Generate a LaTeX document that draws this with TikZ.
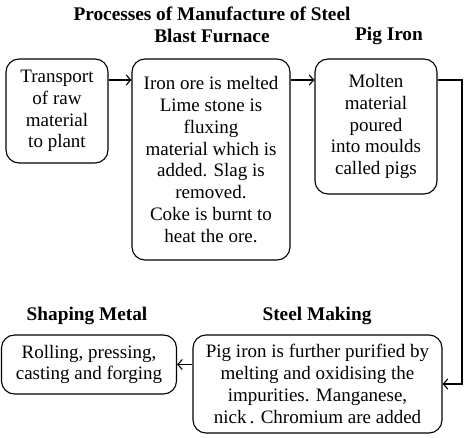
\documentclass[tikz,border=0pt]{standalone}
\usepackage{fontspec}
\setmainfont{Liberation Serif}
\usetikzlibrary{arrows.meta}
\begin{document}
\begin{tikzpicture}[x=1pt,y=-1pt,
  box/.style={draw, line width=1.1pt, rounded corners=13pt, align=center, inner sep=0pt,
    font=\fontsize{19}{21.8}\selectfont},
  head/.style={font=\fontsize{19.3}{20}\selectfont\bfseries},
  conn/.style={line width=1.1pt, -{Straight Barb[length=4.5pt,width=10pt,line width=1.1pt]}}]
\useasboundingbox (0,0) rectangle (466,438);
\node[head] (title) at (212,14) {Processes of Manufacture of Steel};
\node[head] (hbf) at (212,36) {Blast Furnace};
\node[head] (hpi) at (389,36) {Pig Iron};
\node[head] (hsm) at (317,316) {Steel Making};
\node[head] (hsh) at (87,316) {Shaping Metal};
\node[box, minimum width=102pt, minimum height=104pt] (b1) at (57,111)
  {Transport\\of raw\\material\\to plant};
\node[box, minimum width=158pt, minimum height=201pt] (b2) at (211,159.5)
  {Iron ore is melted\\Lime stone is\\fluxing\\material which is\\added. Slag is\\removed.\\Coke is burnt to\\heat the ore.};
\node[box, minimum width=122pt, minimum height=135pt] (b3) at (376,126.5)
  {Molten\\material\\poured\\into moulds\\called pigs};
\node[box, minimum width=249pt, minimum height=98pt] (steel) at (317.5,384)
  {Pig iron is further purified by\\melting and oxidising the\\impurities. Manganese,\\nick\,. Chromium are added};
\node[box, minimum width=175pt, minimum height=59pt] (shape) at (89,364.5)
  {Rolling, pressing,\\casting and forging};
\coordinate (row) at (0,80);
\coordinate (c1) at (462,80);
\draw[conn] (b1.east |- row) -- (b2.west |- row);
\draw[conn] (b2.east |- row) -- (b3.west |- row);
\draw[conn] (b3.east |- c1) -- (c1) |- (steel.east);
\draw[conn] (steel.west |- shape.east) -- (shape.east);
\end{tikzpicture}
\end{document}
